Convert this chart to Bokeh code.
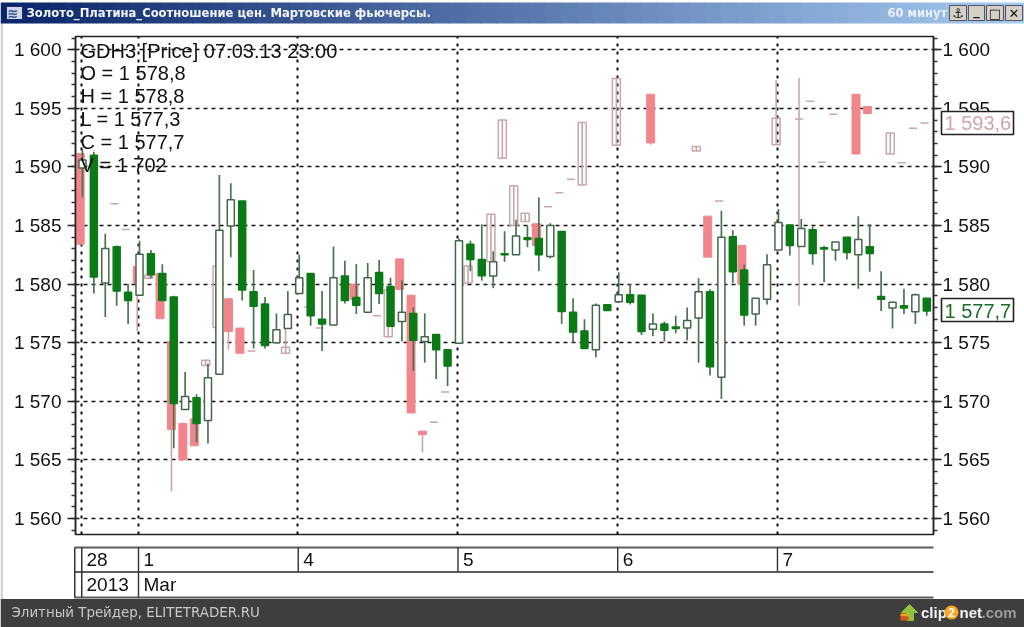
import numpy as np
from bokeh.core.properties import value
from bokeh.embed import file_html
from bokeh.resources import INLINE
from bokeh.plotting import figure
from bokeh.models import Grid, FixedTicker, LinearAxis, SingleIntervalTicker, Range1d

# ---------- front instrument (gold), bars -5 .. 69 ----------
gold_o = [1589.9,1591.0,1580.1,1583.2,1579.3,1579.05,1582.6,1580.9,1578.9,1569.3,1570.3,1568.35,1572.3,1584.95,1587.1,1579.35,1578.3,1575.0,1576.2,1579.2,
          1580.9,1577.0,1576.5,1580.7,1578.85,1577.6,1581.0,1579.8,1576.8,1577.5,1575.1,1575.7,1574.4,1574.95,1583.4,1582.1,1580.7,1582.6,1582.5,1583.95,
          1583.9,1582.35,1584.5,1577.6,1576.0,1574.4,1578.25,1578.5,1579.1,1579.05,1576.15,1576.6,1576.35,1576.25,1577.1,1579.35,1572.05,1584.05,1581.2,1577.45,
          1578.7,1582.9,1585.05,1583.2,1584.65,1583.1,1582.9,1584.0,1582.5,1583.2,1578.95,1577.95,1578.15,1577.65,1578.8]
gold_h = [1591.5,1591.3,1584.3,1583.3,1580.0,1583.7,1582.9,1581.7,1579.0,1572.5,1570.6,1573.2,1589.3,1588.6,1587.1,1581.2,1578.9,1577.5,1579.4,1582.5,
          1580.9,1579.4,1583.2,1582.0,1581.7,1581.8,1582.05,1580.55,1580.3,1578.0,1577.5,1575.7,1574.4,1583.9,1583.7,1585.1,1582.8,1584.5,1585.5,1585.0,
          1587.4,1585.2,1584.5,1578.8,1577.0,1578.35,1578.25,1581.0,1580.0,1579.05,1577.5,1576.8,1577.3,1578.0,1580.5,1579.55,1586.25,1584.6,1581.65,1578.8,
          1582.55,1586.4,1585.05,1585.55,1584.9,1583.25,1583.6,1584.0,1585.8,1585.1,1581.1,1578.45,1579.6,1579.2,1578.8]
gold_l = [1587.4,1579.2,1577.2,1578.15,1576.6,1579.05,1580.5,1578.6,1566.0,1569.3,1566.5,1566.4,1572.3,1582.3,1578.6,1574.5,1574.5,1575.0,1576.2,1579.2,
          1576.45,1574.3,1576.5,1578.35,1577.45,1577.6,1578.3,1576.4,1575.1,1572.6,1573.3,1571.9,1571.3,1574.95,1581.1,1580.3,1579.65,1581.9,1582.5,1583.15,
          1581.1,1582.2,1576.6,1575.0,1574.5,1573.75,1577.75,1578.4,1578.25,1575.65,1575.55,1575.1,1575.8,1575.2,1573.3,1572.2,1570.2,1580.1,1576.45,1576.45,
          1578.25,1582.9,1582.45,1583.2,1581.65,1580.15,1582.0,1582.1,1579.6,1581.05,1577.7,1576.2,1577.45,1576.6,1577.3]
gold_c = [1590.6,1580.6,1583.04,1579.4,1578.6,1582.55,1580.8,1578.6,1569.8,1570.4,1568.1,1572.0,1584.6,1587.2,1579.5,1578.1,1574.75,1576.1,1577.4,1580.55,
          1577.3,1576.6,1580.55,1578.6,1578.2,1580.55,1579.2,1576.4,1577.6,1575.2,1575.5,1574.4,1573.0,1583.7,1582.1,1580.7,1581.9,1582.5,1584.1,1583.8,
          1582.5,1585.0,1577.65,1575.9,1574.5,1578.2,1577.75,1579.1,1578.45,1575.95,1576.6,1576.05,1576.2,1576.9,1579.35,1572.95,1584.0,1581.05,1577.35,1578.8,
          1581.65,1585.25,1583.3,1584.75,1582.6,1583.0,1583.6,1582.7,1583.8,1582.6,1578.7,1578.45,1577.95,1579.1,1577.7]

# ---------- back instrument (platinum ratio), sparse bars ----------
back_i = [-5,-2,-1,0,1,2,3,4,5,6,7,8,9,10,13,15,16,19,21,22,23,24,25,26,27,29,31,32,33,34,35,36,37,38,39,42,45,49,50,51,53,56,58,59,60,61,63,64,66,67,68,69]
back_o = [1591.15,1586.85,1584.65,1581.5,1580.5,1580.9,1575.1,1568.1,1568.5,1573.05,1576.3,1578.75,1576.25,1574.3,1574.1,1578.05,1576.25,1580.0,1577.3,1575.5,
          1582.15,1579.05,1567.45,1568.2,1570.8,1580.1,1581.9,1590.75,1585.0,1585.35,1585.15,1586.6,1587.8,1588.95,1588.45,1591.85,1596.2,1591.35,1585.8,1587.1,
          1583.3,1591.9,1594.1,1595.6,1590.4,1594.5,1596.2,1595.15,1591.1,1590.35,1593.3,1593.75]
back_c = [1583.4,1586.85,1584.65,1580.05,1580.75,1577.05,1567.6,1565.0,1566.2,1573.5,1581.55,1575.95,1574.1,1574.3,1574.6,1578.05,1576.25,1578.7,1577.3,1579.5,
          1579.55,1569.0,1567.15,1568.2,1570.8,1581.55,1585.95,1594.0,1588.4,1586.05,1583.3,1586.6,1587.8,1588.95,1593.8,1597.55,1592.05,1591.75,1582.3,1587.1,
          1580.0,1594.15,1594.1,1595.6,1590.4,1594.5,1591.1,1594.55,1592.9,1590.35,1593.3,1593.75]
back_h = [1591.15,1586.85,1584.65,1581.5,1580.75,1580.9,1575.1,1568.1,1568.5,1573.5,1581.55,1578.75,1576.25,1574.3,1576.6,1578.05,1576.25,1580.0,1577.3,1579.5,
          1582.15,1579.05,1567.45,1568.2,1570.8,1581.55,1585.95,1594.0,1588.4,1586.05,1585.15,1586.6,1587.8,1588.95,1593.8,1597.55,1596.2,1591.75,1585.8,1587.1,
          1583.3,1597.4,1597.6,1595.6,1590.4,1594.5,1596.2,1595.15,1592.9,1590.35,1593.3,1593.75]
back_l = [1583.4,1586.85,1584.65,1576.0,1580.5,1577.05,1562.3,1565.0,1566.2,1573.05,1576.3,1574.4,1574.1,1574.3,1574.1,1578.05,1576.25,1578.7,1577.3,1575.5,
          1579.55,1569.0,1565.65,1568.2,1570.8,1580.1,1581.9,1590.75,1585.0,1585.35,1583.3,1586.6,1587.8,1588.95,1588.45,1591.85,1591.9,1591.35,1582.3,1587.1,
          1580.0,1591.9,1578.15,1595.6,1590.4,1594.5,1591.1,1594.55,1591.1,1590.35,1593.3,1593.75]

y_ticks = [1560, 1565, 1570, 1575, 1580, 1585, 1590, 1595, 1600]
y_labels = ["1 560", "1 565", "1 570", "1 575", "1 580", "1 585", "1 590", "1 595", "1 600"]
day_pos = [-5, 0, 14, 28, 42, 56]
day_labels = ["28", "1", "4", "5", "6", "7"]
month_pos = [-5, 0]
month_labels = ["2013", "Mar"]
info_lines = ["GDH3 [Price] 07.03.13 23:00", "O = 1 578,8", "H = 1 578,8", "L = 1 577,3", "C = 1 577,7", "V = 1 702"]
last_prices = ["1 593,6", "1 577,7"]

GREEN = "#0b7a16"
WICK = "#4a7350"
WHITE_EDGE = "#44664a"
PINK = "#f0868c"
PINK_EDGE = "#c9a6aa"
FONT = "Liberation Sans"
W, H = 1024, 627
FIXED = {"position": "fixed", "left": "0px", "top": "0px"}

# ===== chart =====
p = figure(width=W, height=H, output_backend="svg", toolbar_location=None,
           x_range=Range1d(-5.61, 69.59), y_range=Range1d(1558.63, 1601.13),
           min_border_left=75, min_border_right=91, min_border_top=36, min_border_bottom=93,
           x_axis_type=None, y_axis_type=None, background_fill_color="white", border_fill_color="white",
           outline_line_color="#222222", outline_line_width=1.5)
p.styles = FIXED
p.grid.visible = False

def add_axis(side, standoff):
    ax = LinearAxis(ticker=SingleIntervalTicker(interval=5, num_minor_ticks=5))
    ax.major_label_overrides = dict(zip(y_ticks, y_labels))
    ax.major_label_text_font = FONT
    ax.major_label_text_font_size = "19px"
    ax.major_label_text_color = "#111111"
    ax.major_tick_out = 8
    ax.major_tick_in = 0
    ax.minor_tick_out = 4
    ax.minor_tick_in = 0
    ax.major_label_standoff = standoff
    ax.axis_line_color = "#222222"
    ax.major_tick_line_color = "#222222"
    ax.minor_tick_line_color = "#333333"
    ax.axis_line_width = 1.5
    ax.major_tick_line_width = 1.5
    ax.minor_tick_line_width = 1.5
    p.add_layout(ax, side)

add_axis("left", 6)
add_axis("right", 1)

p.add_layout(Grid(dimension=1, ticker=FixedTicker(ticks=y_ticks), grid_line_color="#111111",
                  grid_line_dash="4 4", grid_line_width=1.4, level="underlay"))
p.add_layout(Grid(dimension=0, ticker=FixedTicker(ticks=[d - 0.12 for d in day_pos]), grid_line_color="#111111",
                  grid_line_dash="3 5", grid_line_width=2, level="underlay"))

bx = np.array(back_i) - 0.2
bo, bc, bh, bl = map(np.array, (back_o, back_c, back_h, back_l))
down = bc < bo
p.segment(bx, bh, bx, bl, line_color=PINK_EDGE, line_width=1.6)
p.vbar(bx[down], 0.7, bo[down], bc[down], fill_color=PINK, line_color=PINK, line_width=1)
p.vbar(bx[~down], 0.7, bo[~down], bc[~down], fill_color=None, line_color=PINK_EDGE, line_width=1.5)

gx = np.arange(-5, 70)
go, gc, gh, gl = map(np.array, (gold_o, gold_c, gold_h, gold_l))
gdown = gc < go
p.segment(gx, gh, gx, gl, line_color=WICK, line_width=1.7)
p.vbar(gx[gdown], 0.62, go[gdown], gc[gdown], fill_color=GREEN, line_color=GREEN, line_width=1.4)
p.vbar(gx[~gdown], 0.62, go[~gdown], gc[~gdown], fill_color="white", line_color=WHITE_EDGE, line_width=1.5)

# ===== transparent layer on top: pixel coordinates of the page =====
c = figure(width=W, height=H, output_backend="svg", toolbar_location=None,
           x_range=Range1d(0, W), y_range=Range1d(H, 0), min_border=0,
           x_axis_type=None, y_axis_type=None, background_fill_color=None, border_fill_color=None,
           outline_line_color=None)
c.styles = FIXED
c.grid.visible = False

def box(l, t, r, b, color, line=None, lw=1.0):
    c.quad(left=[l], right=[r], top=[t], bottom=[b], fill_color=color, line_color=line, line_width=lw)

def label(x, y, s, size="19px", color="#111111", font=FONT, style="normal", align="left"):
    c.text(x=[x], y=[y], text=[s], text_font=value(font), text_font_size=value(size), text_color=color,
           text_font_style=style, text_align=align, text_baseline="middle")

for k, s in enumerate(info_lines):
    label(80, 50 + k * 22.9, s, size="20px")

box(941, 111, 1013, 134, "white", line="#222222", lw=1.6)
label(944, 122.5, last_prices[0], size="20px", color="#d3a3ab")
box(941, 298, 1013, 321, "white", line="#222222", lw=1.6)
label(944, 310, last_prices[1], size="20px", color="#1f6d28")

def px(i):
    return 138 + i * 11.41

for y in (547, 571.5, 597):
    box(74, y - 1, 933, y + 1, "#5c5c5c")
box(73.5, 547, 75, 597, "#333333")
box(80.5, 547, 82, 597, "#333333")
for d in day_pos[1:]:
    box(px(d) - 0.7, 547, px(d) + 0.7, 571, "#333333")
box(px(0) - 0.7, 571, px(0) + 0.7, 597, "#333333")
for d, s in zip(day_pos, day_labels):
    label(86 if d < 0 else px(d) + 5, 559, s)
for d, s in zip(month_pos, month_labels):
    label(86 if d < 0 else px(d) + 5, 584, s)

# title bar
box(0, 22, 2.5, 599, "#d2d2d2")
c0, c1 = np.array([10, 38, 106]), np.array([166, 202, 240])
for k in range(64):
    col = c0 + (c1 - c0) * k / 63
    box(k * 16, 2, (k + 1) * 16 + 0.5, 23, "#%02x%02x%02x" % tuple(int(v) for v in col))
box(6, 6, 22, 19, "#cfd6e6", line="#1b2f6b")
label(7, 13, "≋", size="13px", color="#31508f", font="DejaVu Sans", style="bold")
label(26, 12.5, "Золото_Платина_Соотношение цен. Мартовские фьючерсы.", size="11.6px",
      color="#f4f6fb", font="DejaVu Sans", style="bold")
label(887, 12.5, "60 минут", size="11.5px", color="#eaf1fa", font="DejaVu Sans", style="bold")
for (l, r), g in zip([(949, 966), (968, 984), (986, 1003), (1005, 1022)], ["⚓", "_", "□", "✕"]):
    box(l, 5, r, 20, "#d4d0c8", line="#555555", lw=1)
    label((l + r) / 2, 12.5 if g != "_" else 9.5, g, size="13px", color="#111111", font="DejaVu Sans",
          style="bold", align="center")

# footer
box(0, 598.5, W, H, "#3e3e3e")
label(11, 612, "Элитный Трейдер, ELITETRADER.RU", size="13.4px", color="#c9c9c9", font="DejaVu Sans")
c.patch([909, 917, 913, 913, 906, 906, 901], [604, 612, 612, 620, 620, 612, 612], fill_color="#8fc23f", line_color="#8fc23f")
box(900, 613, 908, 616, "#f3a21c")
box(900, 616, 908, 620, "#d9551a")
label(920.5, 612, "clip", size="15px", color="#f2f2f2", style="bold")
c.scatter([951], [612], size=14, marker="circle", fill_color="#f5a623", line_color=None)
label(951, 612, "2", size="12px", color="#ffffff", style="bold", align="center")
label(959, 612, "net", size="15px", color="#f2f2f2", style="bold")
label(981, 612, ".com", size="15px", color="#9a9a9a", style="bold")

open("out.html", "w").write(file_html([p, c], INLINE))
